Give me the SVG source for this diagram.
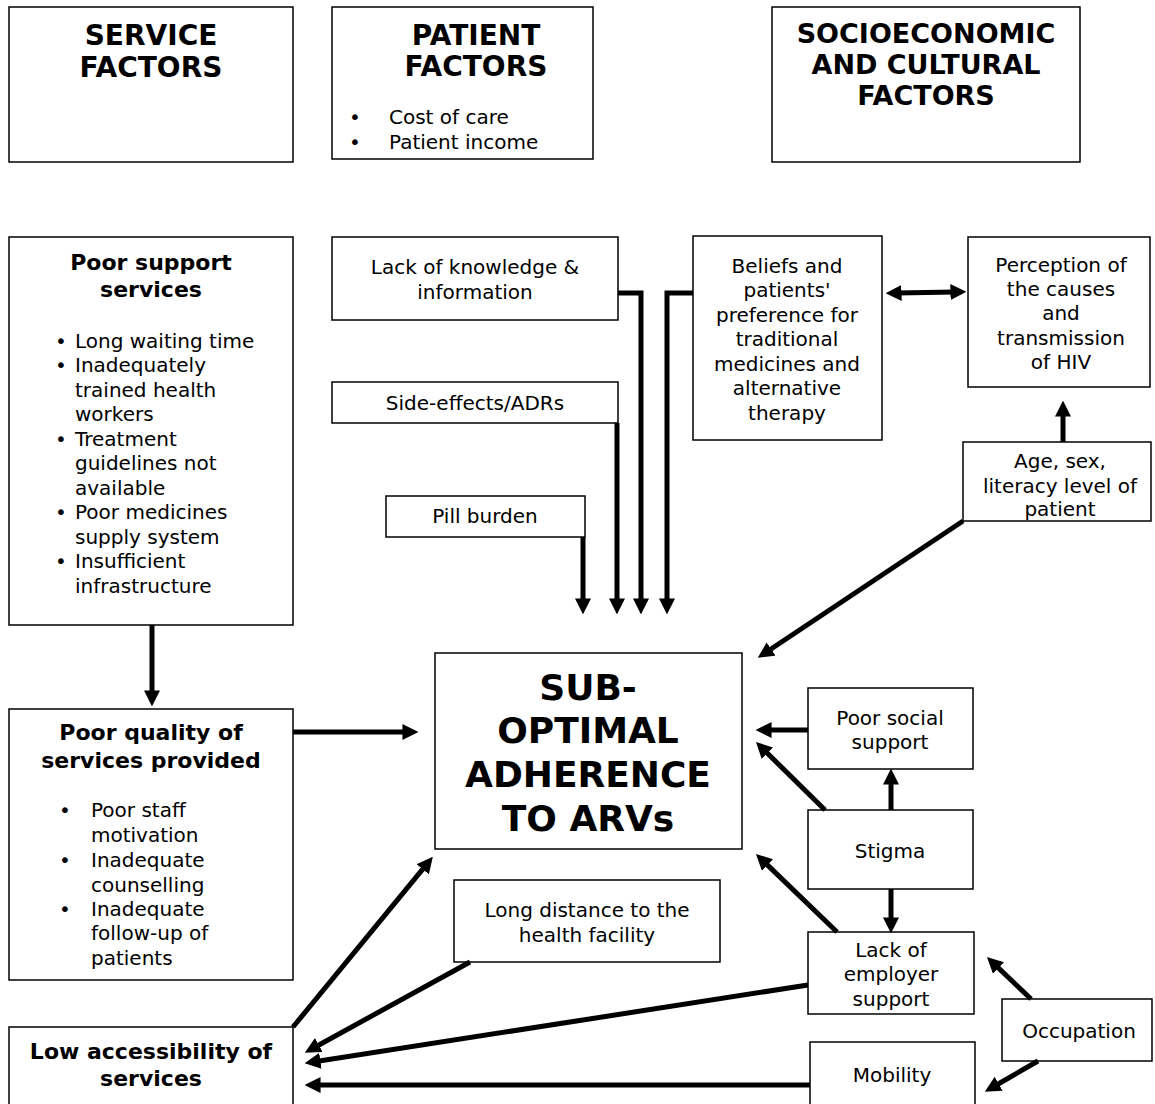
<svg xmlns="http://www.w3.org/2000/svg" width="1155" height="1104" viewBox="0 0 1155 1104">
<style>
.box{fill:#fff;stroke:#000;stroke-width:1.5}
text{font-family:"DejaVu Sans","Liberation Sans",sans-serif;fill:#000}
.t{font-size:20px;text-anchor:middle}
.l{font-size:20px}
.h{font-size:28px;font-weight:bold;text-anchor:middle}
.h2{font-size:27px;font-weight:bold;text-anchor:middle}
.b{font-size:22px;font-weight:bold;text-anchor:middle}
.c{font-size:36px;font-weight:bold;text-anchor:middle}
.ar{fill:none;stroke:#000;stroke-width:5;marker-end:url(#ah)}
</style>
<defs>
<marker id="ah" markerUnits="userSpaceOnUse" markerWidth="16" markerHeight="16" refX="4" refY="7" orient="auto-start-reverse" viewBox="0 0 14 14">
<path d="M0,0 L14,7 L0,14 z" fill="#000"/>
</marker>
</defs>
<rect width="1155" height="1104" fill="#fff"/>

<g id="service-factors">
<rect class="box" x="9" y="7" width="284" height="155"/>
<text class="h" x="151" y="45">SERVICE</text>
<text class="h" x="151" y="77">FACTORS</text>
</g>
<g id="patient-factors">
<rect class="box" x="332" y="7" width="261" height="152"/>
<text class="h" x="476" y="45">PATIENT</text>
<text class="h" x="476" y="76">FACTORS</text>
<text class="l" x="349" y="124">•</text><text class="l" x="389" y="124">Cost of care</text>
<text class="l" x="349" y="149">•</text><text class="l" x="389" y="149">Patient income</text>
</g>
<g id="socio-factors">
<rect class="box" x="772" y="7" width="308" height="155"/>
<text class="h2" x="926" y="43">SOCIOECONOMIC</text>
<text class="h2" x="926" y="74">AND CULTURAL</text>
<text class="h2" x="926" y="105">FACTORS</text>
</g>

<g id="poor-support">
<rect class="box" x="9" y="237" width="284" height="388"/>
<text class="b" x="151" y="270">Poor support</text>
<text class="b" x="151" y="297">services</text>
<g class="l">
<text x="55" y="348">•</text><text x="75" y="348">Long waiting time</text>
<text x="55" y="372">•</text><text x="75" y="372">Inadequately</text>
<text x="75" y="397">trained health</text>
<text x="75" y="421">workers</text>
<text x="55" y="446">•</text><text x="75" y="446">Treatment</text>
<text x="75" y="470">guidelines not</text>
<text x="75" y="495">available</text>
<text x="55" y="519">•</text><text x="75" y="519">Poor medicines</text>
<text x="75" y="544">supply system</text>
<text x="55" y="568">•</text><text x="75" y="568">Insufficient</text>
<text x="75" y="593">infrastructure</text>
</g>
</g>

<g id="lack-knowledge">
<rect class="box" x="332" y="237" width="286" height="83"/>
<text class="t" x="475" y="274">Lack of knowledge &amp;</text>
<text class="t" x="475" y="299">information</text>
</g>
<g id="side-effects">
<rect class="box" x="332" y="382" width="286" height="41"/>
<text class="t" x="475" y="410">Side-effects/ADRs</text>
</g>
<g id="pill-burden">
<rect class="box" x="386" y="496" width="199" height="41"/>
<text class="t" x="485" y="523">Pill burden</text>
</g>

<g id="beliefs">
<rect class="box" x="693" y="236" width="189" height="204"/>
<text class="t" x="787" y="273">Beliefs and</text>
<text class="t" x="787" y="297">patients'</text>
<text class="t" x="787" y="322">preference for</text>
<text class="t" x="787" y="346">traditional</text>
<text class="t" x="787" y="371">medicines and</text>
<text class="t" x="787" y="395">alternative</text>
<text class="t" x="787" y="420">therapy</text>
</g>
<g id="perception">
<rect class="box" x="968" y="237" width="182" height="150"/>
<text class="t" x="1061" y="272">Perception of</text>
<text class="t" x="1061" y="296">the causes</text>
<text class="t" x="1061" y="320">and</text>
<text class="t" x="1061" y="345">transmission</text>
<text class="t" x="1061" y="369">of HIV</text>
</g>
<g id="age-sex">
<rect class="box" x="963" y="442" width="188" height="79"/>
<text class="t" x="1060" y="468">Age, sex,</text>
<text class="t" x="1060" y="493">literacy level of</text>
<text class="t" x="1060" y="516">patient</text>
</g>

<g id="sub-optimal">
<rect class="box" x="435" y="653" width="307" height="196"/>
<text class="c" x="588" y="700">SUB-</text>
<text class="c" x="588" y="743">OPTIMAL</text>
<text class="c" x="588" y="787">ADHERENCE</text>
<text class="c" x="588" y="831">TO ARVs</text>
</g>

<g id="poor-quality">
<rect class="box" x="9" y="709" width="284" height="271"/>
<text class="b" x="151" y="740">Poor quality of</text>
<text class="b" x="151" y="768">services provided</text>
<g class="l">
<text x="59" y="817">•</text><text x="91" y="817">Poor staff</text>
<text x="91" y="842">motivation</text>
<text x="59" y="867">•</text><text x="91" y="867">Inadequate</text>
<text x="91" y="892">counselling</text>
<text x="59" y="916">•</text><text x="91" y="916">Inadequate</text>
<text x="91" y="940">follow-up of</text>
<text x="91" y="965">patients</text>
</g>
</g>

<g id="low-access">
<rect class="box" x="9" y="1027" width="284" height="80"/>
<text class="b" x="151" y="1059">Low accessibility of</text>
<text class="b" x="151" y="1086">services</text>
</g>

<g id="long-distance">
<rect class="box" x="454" y="880" width="266" height="82"/>
<text class="t" x="587" y="917">Long distance to the</text>
<text class="t" x="587" y="942">health facility</text>
</g>

<g id="poor-social">
<rect class="box" x="808" y="688" width="165" height="81"/>
<text class="t" x="890" y="725">Poor social</text>
<text class="t" x="890" y="749">support</text>
</g>
<g id="stigma">
<rect class="box" x="808" y="810" width="165" height="79"/>
<text class="t" x="890" y="858">Stigma</text>
</g>
<g id="lack-employer">
<rect class="box" x="808" y="932" width="166" height="82"/>
<text class="t" x="891" y="957">Lack of</text>
<text class="t" x="891" y="981">employer</text>
<text class="t" x="891" y="1006">support</text>
</g>
<g id="occupation">
<rect class="box" x="1002" y="999" width="150" height="62"/>
<text class="t" x="1079" y="1038">Occupation</text>
</g>
<g id="mobility">
<rect class="box" x="810" y="1042" width="165" height="65"/>
<text class="t" x="892" y="1082">Mobility</text>
</g>

<g id="connectors">
<path class="ar" d="M583,537 V603"/>
<path class="ar" d="M617,423 V603"/>
<path class="ar" d="M618,293 H641 V603"/>
<path class="ar" d="M693,293 H667 V603"/>
<path class="ar" d="M897,293 L955,292" style="marker-start:url(#ah)"/>
<path class="ar" d="M1063,442 V412"/>
<path class="ar" d="M963,521 L767.3,651.5"/>
<path class="ar" d="M152,625 V695"/>
<path class="ar" d="M293,732 H407"/>
<path class="ar" d="M293,1027 L425.6,865.7"/>
<path class="ar" d="M470,962 L314.8,1047.2"/>
<path class="ar" d="M808,985 L315.9,1061.5"/>
<path class="ar" d="M810,1085 H316"/>
<path class="ar" d="M808,730 H767"/>
<path class="ar" d="M891,810 V780"/>
<path class="ar" d="M825,810 L764.1,750"/>
<path class="ar" d="M891,889 V922"/>
<path class="ar" d="M837,932 L764.2,861.9"/>
<path class="ar" d="M1031,999 L995.2,964.9"/>
<path class="ar" d="M1038,1061 L994.7,1086"/>
</g>
</svg>
